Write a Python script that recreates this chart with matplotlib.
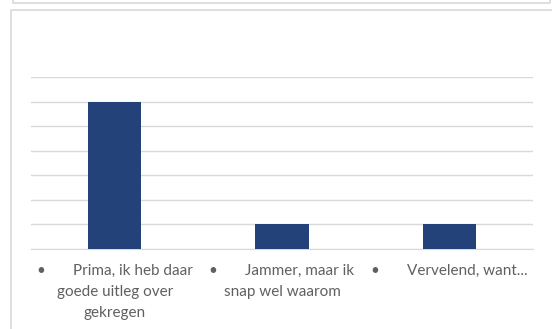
import matplotlib.pyplot as plt
from matplotlib.lines import Line2D

categories = [
    "•       Prima, ik heb daar\ngoede uitleg over\ngekregen",
    "•       Jammer, maar ik\nsnap wel waarom",
    "•       Vervelend, want...",
]
values = [6, 1, 1]

W, H = 552, 329
fig = plt.figure(figsize=(W / 100, H / 100), dpi=100)
fig.patch.set_facecolor("white")


def px_line(xs, ys):
    # line in pixel coords measured from top-left
    fig.add_artist(Line2D([v / W for v in xs], [1 - v / H for v in ys],
                          transform=fig.transFigure, color="#d9d9d9", lw=1.2))


# top box (cut off) and chart border (cut off right/bottom)
px_line([13, 13, 550, 550], [0, 2.5, 2.5, 0])
px_line([552, 11, 11], [9.5, 9.5, 329])

ax = fig.add_axes([31 / W, 1 - 249 / H, 502 / W, (249 - 77) / H])
x = range(len(values))
ax.bar(x, values, width=0.32, color="#24427a", zorder=3)
ax.set_xlim(-0.5, 2.5)
ax.set_ylim(0, 7)
ax.set_yticks(range(8))
ax.yaxis.grid(True, color="#d9d9d9", lw=1)
ax.set_yticklabels([])
ax.tick_params(axis="y", length=0)
ax.set_xticks(list(x))
ax.set_xticklabels(categories, fontsize=11, color="#606060", family="Lato",
                   multialignment="center", linespacing=1.62)
ax.tick_params(axis="x", length=0, pad=11)
for s in ["top", "right", "left"]:
    ax.spines[s].set_visible(False)
ax.spines["bottom"].set_color("#d9d9d9")

fig.savefig("out.png", dpi=100)
